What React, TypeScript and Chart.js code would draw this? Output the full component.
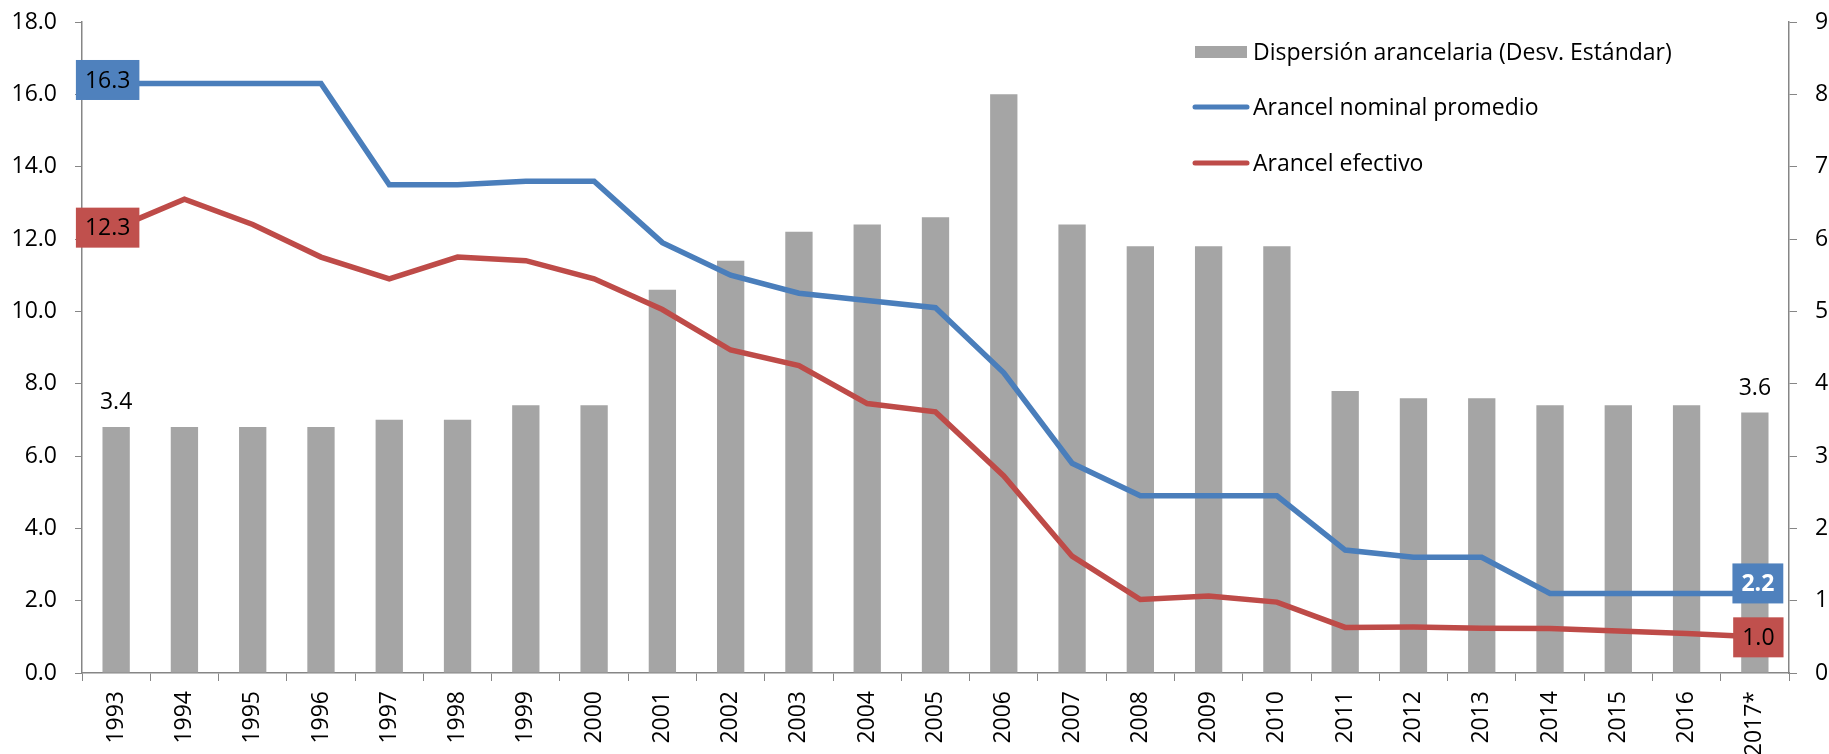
import React, { useEffect, useRef } from "react";
import { Chart, registerables } from "chart.js";

Chart.register(...registerables);

const years = [
  "1993", "1994", "1995", "1996", "1997", "1998", "1999", "2000", "2001", "2002",
  "2003", "2004", "2005", "2006", "2007", "2008", "2009", "2010", "2011", "2012",
  "2013", "2014", "2015", "2016", "2017*",
];

const dispersion = [
  3.4, 3.4, 3.4, 3.4, 3.5, 3.5, 3.7, 3.7, 5.3, 5.7,
  6.1, 6.2, 6.3, 8.0, 6.2, 5.9, 5.9, 5.9, 3.9, 3.8,
  3.8, 3.7, 3.7, 3.7, 3.6,
];

const nominal = [
  16.3, 16.3, 16.3, 16.3, 13.5, 13.5, 13.6, 13.6, 11.9, 11.0,
  10.5, 10.3, 10.1, 8.3, 5.8, 4.9, 4.9, 4.9, 3.4, 3.2,
  3.2, 2.2, 2.2, 2.2, 2.2,
];

const efectivo = [
  12.3, 13.1, 12.4, 11.5, 10.9, 11.5, 11.4, 10.9, 10.05, 8.93,
  8.5, 7.45, 7.22, 5.45, 3.23, 2.03, 2.13, 1.96, 1.26, 1.27,
  1.24, 1.23, 1.16, 1.09, 1.0,
];

const seriesNames = [
  "Dispersión arancelaria (Desv. Estándar)",
  "Arancel nominal promedio",
  "Arancel efectivo",
];

const leftMax = 18;
const leftStep = 2;
const rightMax = 9;
const rightStep = 1;

const GRAY = "#A5A5A5";
const BLUE = "#4A7EBB";
const RED = "#BE4B48";
const BLUE_BOX = "#4F81BD";
const RED_BOX = "#C0504D";
const AXIS = "#868686";
const FONT = "'Open Sans'";
const FONT_SIZE = 23;
const LINE_W = 5.5;

export default function App() {
  const ref = useRef<HTMLCanvasElement>(null);

  useEffect(() => {
    const canvas = ref.current;
    if (!canvas) return;

    const labelPlugin = {
      id: "customLabels",
      afterDatasetsDraw(chart: any) {
        const c = chart.ctx;
        c.save();
        c.font = `${FONT_SIZE}px ${FONT}`;
        c.fillStyle = "#000";
        c.textAlign = "center";
        c.textBaseline = "alphabetic";
        const barMeta = chart.getDatasetMeta(0);
        [0, years.length - 1].forEach((i) => {
          const el = barMeta.data[i];
          c.fillText(dispersion[i].toFixed(1), el.x, el.y - 18);
        });

        const box = (
          dsIndex: number,
          i: number,
          value: number,
          dx: number,
          dy: number,
          fill: string,
          color: string,
          bold: boolean
        ) => {
          const el = chart.getDatasetMeta(dsIndex).data[i];
          const cx = el.x + dx;
          const cy = el.y + dy;
          c.font = `${bold ? "bold " : ""}${FONT_SIZE}px ${FONT}`;
          const txt = value.toFixed(1);
          const w = c.measureText(txt).width + 18;
          const h = 40;
          c.fillStyle = fill;
          c.fillRect(cx - w / 2, cy - h / 2, w, h);
          c.fillStyle = color;
          c.textAlign = "center";
          c.textBaseline = "middle";
          c.fillText(txt, cx, cy + 1);
        };
        const last = years.length - 1;
        box(1, 0, nominal[0], -8.5, -3.5, BLUE_BOX, "#000", false);
        box(2, 0, efectivo[0], -8.5, -0.5, RED_BOX, "#000", false);
        box(1, last, nominal[last], 3, -10, BLUE_BOX, "#fff", true);
        box(2, last, efectivo[last], 3.5, 0.5, RED_BOX, "#000", false);
        c.restore();
      },
      afterDraw(chart: any) {
        const c = chart.ctx;
        c.save();
        c.font = `${FONT_SIZE}px ${FONT}`;
        c.textAlign = "left";
        c.textBaseline = "middle";
        const x0 = 1195;
        const x1 = 1247;
        const tx = 1253;
        const ys = [52, 107, 163];
        c.fillStyle = GRAY;
        c.fillRect(x0, ys[0] - 6, x1 - x0, 12);
        c.lineWidth = 5;
        c.lineCap = "round";
        c.strokeStyle = BLUE;
        c.beginPath();
        c.moveTo(x0, ys[1]);
        c.lineTo(x1, ys[1]);
        c.stroke();
        c.strokeStyle = RED;
        c.beginPath();
        c.moveTo(x0, ys[2]);
        c.lineTo(x1, ys[2]);
        c.stroke();
        c.fillStyle = "#000";
        seriesNames.forEach((n, k) => c.fillText(n, tx, ys[k] + 1));
        c.restore();
      },
    };

    const tickFont = { family: FONT, size: FONT_SIZE };

    const chart = new Chart(canvas, {
      type: "bar",
      data: {
        labels: years,
        datasets: [
          {
            type: "bar",
            label: seriesNames[0],
            data: dispersion,
            backgroundColor: GRAY,
            borderWidth: 0,
            yAxisID: "y1",
            order: 2,
            categoryPercentage: 1,
            barPercentage: 0.4,
          },
          {
            type: "line",
            label: seriesNames[1],
            data: nominal,
            borderColor: BLUE,
            backgroundColor: BLUE,
            borderWidth: LINE_W,
            pointRadius: 0,
            tension: 0,
            yAxisID: "y",
            order: 1,
          },
          {
            type: "line",
            label: seriesNames[2],
            data: efectivo,
            borderColor: RED,
            backgroundColor: RED,
            borderWidth: LINE_W,
            pointRadius: 0,
            tension: 0,
            yAxisID: "y",
            order: 0,
          },
        ] as any,
      },
      options: {
        animation: false,
        responsive: false,
        maintainAspectRatio: false,
        layout: { padding: { top: 22, left: 0, right: 0, bottom: 0 } },
        plugins: {
          legend: { display: false },
          tooltip: { enabled: false },
        },
        scales: {
          x: {
            offset: true,
            grid: {
              display: true,
              offset: true,
              drawOnChartArea: false,
              drawTicks: true,
              tickLength: 8,
              color: AXIS,
            },
            border: { display: true, color: AXIS, width: 1.5 },
            ticks: {
              autoSkip: false,
              maxRotation: 90,
              minRotation: 90,
              padding: 10,
              color: "#000",
              font: tickFont,
            },
            afterFit: (s: any) => {
              s.height = 81;
              s.paddingLeft = 0;
              s.paddingRight = 0;
            },
          },
          y: {
            position: "left",
            min: 0,
            max: leftMax,
            grid: {
              drawOnChartArea: false,
              drawTicks: true,
              tickLength: 7,
              color: AXIS,
            },
            border: { display: true, color: AXIS, width: 1.5 },
            ticks: {
              stepSize: leftStep,
              padding: 18,
              color: "#000",
              font: tickFont,
              callback: (v: any) => Number(v).toFixed(1),
            },
            afterFit: (s: any) => {
              s.width = 82;
              s.paddingTop = 0;
              s.paddingBottom = 0;
            },
          },
          y1: {
            position: "right",
            min: 0,
            max: rightMax,
            grid: {
              drawOnChartArea: false,
              drawTicks: true,
              tickLength: 8,
              color: AXIS,
            },
            border: { display: true, color: AXIS, width: 1.5 },
            ticks: {
              stepSize: rightStep,
              padding: 18,
              color: "#000",
              font: tickFont,
              callback: (v: any) => String(v),
            },
            afterFit: (s: any) => {
              s.width = 40;
              s.paddingTop = 0;
              s.paddingBottom = 0;
            },
          },
        },
      } as any,
      plugins: [labelPlugin],
    });

    return () => {
      chart.destroy();
    };
  }, []);

  return (
    <div style={{ position: "fixed", left: 0, top: 0, width: 1829, height: 754, background: "#fff" }}>
      <canvas ref={ref} width={1829} height={754} style={{ display: "block" }} />
    </div>
  );
}
